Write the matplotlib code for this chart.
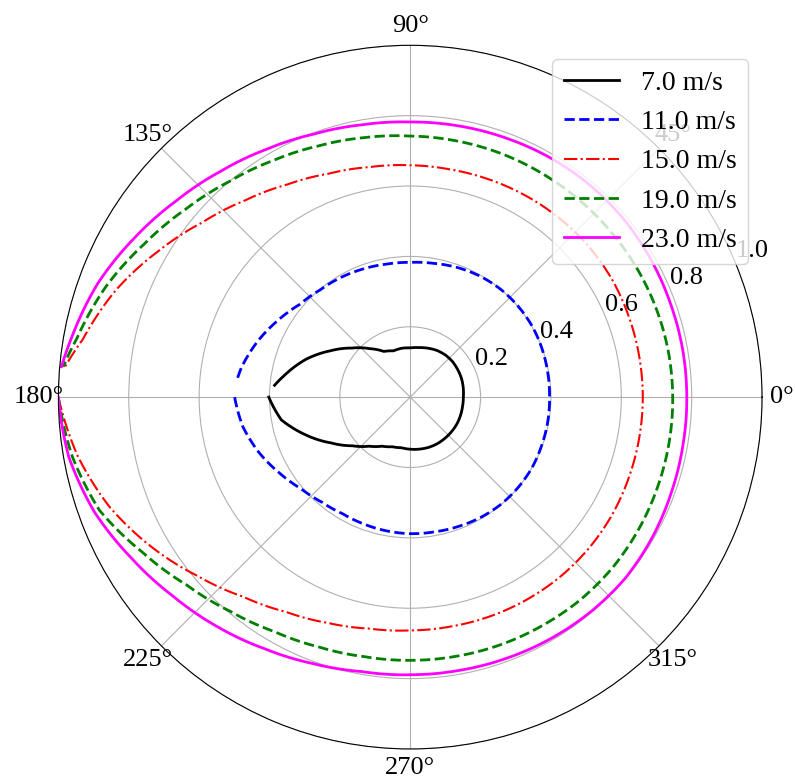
import numpy as np
import matplotlib
matplotlib.use("Agg")
import matplotlib.pyplot as plt

plt.rcParams['font.family'] = ['Liberation Serif', 'DejaVu Serif']

# angles (deg), from 180 going round to 175
theta_deg = [-180, -170, -160, -150, -140, -130, -120, -110, -100, -90,
             -80, -70, -60, -50, -40, -30, -20, -10,
             0, 10, 20, 30, 40, 50, 60, 70, 80, 90,
             100, 110, 120, 130, 140, 150, 160, 170, 175]

r_7 = [0.402, 0.372, 0.315, 0.260, 0.215, 0.182, 0.161, 0.150, 0.146, 0.148,
       0.150, 0.152, 0.153, 0.153, 0.153, 0.153, 0.152, 0.151,
       0.151, 0.153, 0.155, 0.156, 0.157, 0.156, 0.153, 0.148, 0.143, 0.140,
       0.141, 0.140, 0.150, 0.180, 0.217, 0.263, 0.315, 0.362, 0.387]

r_11 = [0.499, 0.483, 0.458, 0.430, 0.405, 0.390, 0.383, 0.384, 0.386, 0.388,
        0.389, 0.392, 0.396, 0.399, 0.400, 0.400, 0.398, 0.397,
        0.396, 0.397, 0.399, 0.401, 0.401, 0.400, 0.397, 0.392, 0.386, 0.383,
        0.384, 0.388, 0.393, 0.398, 0.410, 0.435, 0.462, 0.487, 0.496]

r_15 = [1.000, 0.960, 0.910, 0.850, 0.790, 0.740, 0.705, 0.683, 0.668, 0.663,
        0.662, 0.663, 0.664, 0.665, 0.665, 0.664, 0.662, 0.661,
        0.661, 0.661, 0.662, 0.664, 0.664, 0.662, 0.660, 0.658, 0.657, 0.659,
        0.664, 0.676, 0.698, 0.730, 0.772, 0.828, 0.890, 0.945, 0.985]

r_19 = [1.000, 0.975, 0.940, 0.880, 0.830, 0.795, 0.770, 0.756, 0.749, 0.748,
        0.748, 0.749, 0.750, 0.752, 0.752, 0.750, 0.748, 0.747,
        0.746, 0.745, 0.743, 0.741, 0.739, 0.738, 0.738, 0.739, 0.740, 0.742,
        0.749, 0.760, 0.777, 0.800, 0.832, 0.872, 0.920, 0.962, 0.990]

r_23 = [1.000, 0.985, 0.955, 0.915, 0.880, 0.852, 0.826, 0.806, 0.792, 0.789,
        0.789, 0.791, 0.794, 0.797, 0.799, 0.795, 0.790, 0.787,
        0.786, 0.786, 0.786, 0.788, 0.790, 0.790, 0.788, 0.785, 0.783, 0.782,
        0.786, 0.796, 0.814, 0.838, 0.868, 0.905, 0.945, 0.977, 0.995]

labels = ["7.0 m/s", "11.0 m/s", "15.0 m/s", "19.0 m/s", "23.0 m/s"]

theta = np.deg2rad(theta_deg)

fig = plt.figure(figsize=(7.95, 7.81), dpi=100)
ax = fig.add_axes([0.073, 0.041, 0.886, 0.901], projection='polar')

lines = []
lines += ax.plot(theta, r_7, color='black', linestyle='-', linewidth=2, label=labels[0])
lines += ax.plot(theta, r_11, color='blue', linestyle='--', linewidth=2, label=labels[1])
lines += ax.plot(theta, r_15, color='red', linestyle='-.', linewidth=1.5, label=labels[2])
lines += ax.plot(theta, r_19, color='green', linestyle='--', linewidth=2, label=labels[3])
lines += ax.plot(theta, r_23, color='magenta', linestyle='-', linewidth=2, label=labels[4])

# let the polar transform draw each segment as an arc, not a chord
for ln in lines:
    ln.get_path()._interpolation_steps = 20

ax.set_ylim(0, 1.0)
ax.set_rticks([0.2, 0.4, 0.6, 0.8, 1.0])
ax.tick_params(labelsize=19)
ax.grid(True, color='#b0b0b0', linewidth=0.8)

ax.legend(loc='upper right', fontsize=20)

fig.savefig("out.png", dpi=100)
